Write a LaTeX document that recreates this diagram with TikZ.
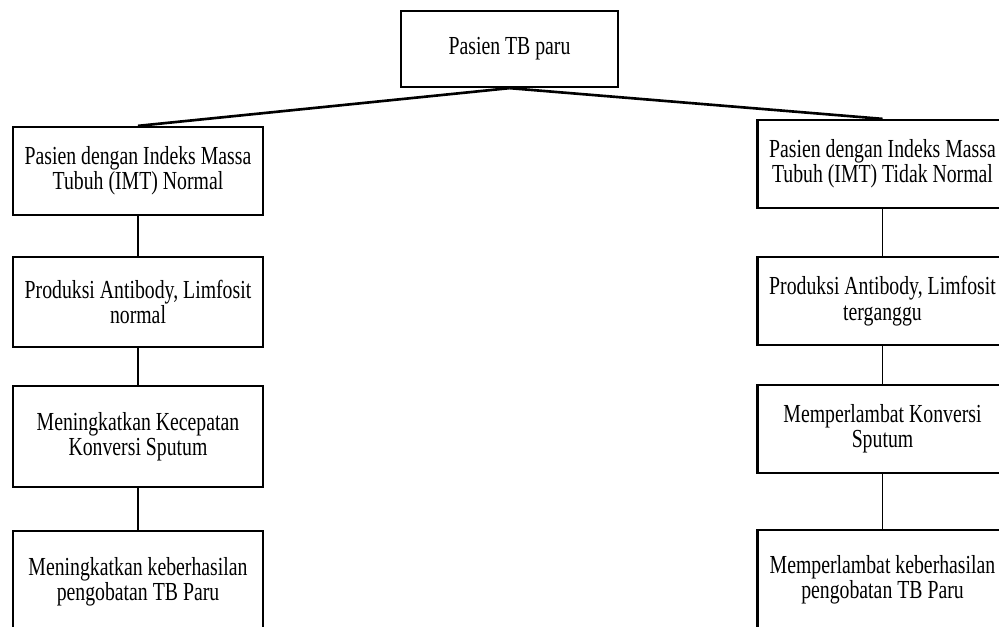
\documentclass[tikz,border=0pt]{standalone}
\usepackage{fontspec}
\setmainfont[FakeStretch=0.76]{Liberation Serif}
\usetikzlibrary{positioning}

\begin{document}
\begin{tikzpicture}
\tikzset{box/.style = {draw, line width=1.3pt, minimum width=5cm, minimum height=1.76cm, align=center, inner sep=2pt, font=\fontsize{14.8}{14.4}\selectfont}}
\tikzset{fan/.style = {line width=1.5pt}}
\tikzset{link/.style = {line width=1pt}}

   \useasboundingbox (0,0) rectangle (19.98,-12.52);
   \clip (0,0) rectangle (19.98,-12.52);

   \node[box, minimum width=4.34cm, minimum height=1.52cm] (pasien) at (10.19,-0.98) {Pasien TB paru};

   % IMT normal
   \node[box] (nrm1) at (2.76,-3.42) {Pasien dengan Indeks Massa\\Tubuh (IMT) Normal};
   \node[box, minimum height=1.8cm] (nrm2) at (2.76,-6.04) {Produksi Antibody, Limfosit\\normal};
   \node[box, minimum height=2.02cm] (nrm3) at (2.76,-8.73) {Meningkatkan Kecepatan\\Konversi Sputum};
   \node[box, minimum height=2.04cm] (nrm4) at (2.76,-11.64) {Meningkatkan keberhasilan\\pengobatan TB Paru};

   % IMT tidak normal
   \node[box] (tdk1) at (17.65,-3.28) {Pasien dengan Indeks Massa\\Tubuh (IMT) Tidak Normal};
   \node[box] (tdk2) at (17.65,-6.02) {Produksi Antibody, Limfosit\\terganggu};
   \node[box] (tdk3) at (17.65,-8.58) {Memperlambat Konversi\\Sputum};
   \node[box, minimum height=2cm] (tdk4) at (17.65,-11.6) {Memperlambat keberhasilan\\pengobatan TB Paru};

   \draw[fan] (pasien.south) -- (nrm1.north);
   \draw[fan] (pasien.south) -- (tdk1.north);

   \foreach \a/\b in {nrm1/nrm2, nrm2/nrm3, nrm3/nrm4, tdk1/tdk2, tdk2/tdk3, tdk3/tdk4}
     {\draw[link] (\a.south) -- (\b.north);}

\end{tikzpicture}
\end{document}
